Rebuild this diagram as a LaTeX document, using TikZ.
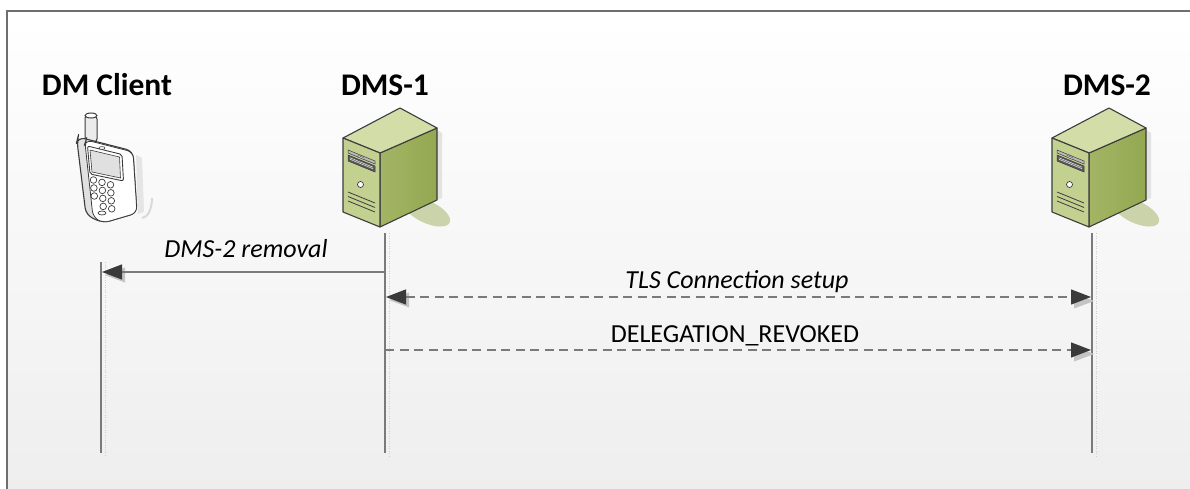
\documentclass[tikz,border=0pt]{standalone}
\usepackage{fontspec}
\setmainfont{Carlito}
\usetikzlibrary{arrows.meta}
\definecolor{framec}{HTML}{6E6E6E}
\definecolor{linec}{HTML}{7A7A7A}
\definecolor{tipc}{HTML}{3A3A3A}
\definecolor{tipsh}{HTML}{C4C4C4}
\definecolor{lifesh}{HTML}{CFCFCF}
\definecolor{srvtop}{HTML}{D2DDA8}
\definecolor{srvfront}{HTML}{C2D190}
\definecolor{srvside}{HTML}{A3B565}
\definecolor{srvsided}{HTML}{93A851}
\definecolor{srvsh}{HTML}{CBD3AA}
\definecolor{outl}{HTML}{3C3C3C}
\tikzset{
  title/.style={font=\fontsize{31.5}{38}\selectfont\bfseries, anchor=base, inner sep=0pt},
  msglabel/.style={font=\fontsize{26}{31}\selectfont, anchor=base, inner sep=0pt},
  msgitlabel/.style={msglabel, font=\fontsize{26}{31}\selectfont\itshape},
  lifeline/.style={draw=linec, line width=1.5pt},
  lifeshadow/.style={draw=lifesh, line width=0.8pt, dash pattern=on 1pt off 1.5pt},
  msg/.style={draw=linec, line width=1.3pt, -{Triangle[length=20pt,width=15pt,color=tipc]}},
  dmsg/.style={msg, dash pattern=on 9pt off 5.5pt},
  ddmsg/.style={dmsg, {Triangle[length=20pt,width=15pt,color=tipc]}-{Triangle[length=20pt,width=15pt,color=tipc]}},
  shtip/.style={fill=tipsh, draw=none},
  pics/server/.style={code={
    % shadow
    \fill[srvsh, rotate around={-25:(84,74)}] (84,74) ellipse [x radius=25, y radius=11];
    \fill[gray!22] (94,-8) -- (99,-5) -- (99,60) -- (94,62) -- cycle;
    % right face
    \shade[left color=srvside, right color=srvsided, draw=outl, line width=1.1pt, line join=round]
      (37,15) -- (94,-10) -- (94,62) -- (37,89) -- cycle;
    % top face
    \fill[srvtop, draw=outl, line width=1.1pt, line join=round]
      (0,0) -- (57,-30) -- (94,-10) -- (37,15) -- cycle;
    % front face
    \fill[srvfront, draw=outl, line width=1.1pt, line join=round]
      (0,0) -- (37,15) -- (37,89) -- (0,74) -- cycle;
    % top bay
    \fill[gray!55, draw=outl, line width=0.5pt] (5,12) -- (32,23) -- (32,26) -- (5,15) -- cycle;
    \fill[white!90!gray, draw=outl, line width=0.4pt] (15,17.5) -- (21,20) -- (21,21.5) -- (15,19) -- cycle;
    % second bay
    \fill[gray!70!black, draw=outl, line width=0.5pt] (5,17) -- (32,28) -- (32,34) -- (5,23) -- cycle;
    \draw[white!85!gray, line width=0.5pt] (7,19.8) -- (30,29.2) (7,21.3) -- (30,30.7);
    % button
    \fill[white, draw=outl, line width=0.7pt] (17.5,46.5) circle [radius=3];
    % vents
    \draw[outl, line width=0.8pt] (5,54) -- (32,65) (5,58.5) -- (32,69.5) (5,63) -- (32,74);
  }},
}
\begin{document}
\begin{tikzpicture}[x=1pt,y=-1pt]
\useasboundingbox (0,0) rectangle (1190,489);
\fill[white] (-5,-5) rectangle (1195,495);
\foreach \i in {0,...,47}{
  \pgfmathsetmacro{\shadeamt}{6.5*\i/47}
  \fill[black!\shadeamt] (7,{11+10*\i}) rectangle (1200,{11+10*\i+10.6});
}
\draw[framec, line width=2pt] (7,500) -- (7,11) -- (1200,11);

% titles
\node[title] (tclient) at (107,96) {DM Client};
\node[title] (tdms1) at (385,96) {DMS-1};
\node[title] (tdms2) at (1107,96) {DMS-2};

% phone icon
\fill[black!10] (136,155) -- (142,158) -- (144,212) -- (138,214) -- cycle;
\draw[black!15, line width=2pt] (152,198) arc [start angle=0, end angle=90, x radius=10, y radius=20];
\fill[black!8, draw=outl, line width=1pt, rounded corners=3pt]
  (85,115) -- (85,140) -- (97,142) -- (97,116) -- cycle;
\fill[white, draw=outl, line width=1pt] (91,115.5) ellipse [x radius=6, y radius=2.5];
\fill[black!12, draw=outl, line width=1.1pt, rounded corners=7pt]
  (78,137) -- (133,151) -- (137,213) -- (103,223) -- (86,215) -- (77,141) -- cycle;
\fill[white, draw=outl, line width=0.8pt, rounded corners=6pt]
  (86,140) -- (133,152) -- (137,213) -- (103,223) -- (93,217) -- (85,143) -- cycle;
\fill[white, draw=outl, line width=0.9pt, rounded corners=2pt]
  (87.5,146) -- (122,154.5) -- (123.5,181) -- (90,174) -- cycle;
\fill[black!12, draw=outl, line width=0.6pt]
  (90,150) -- (119.5,157) -- (120.5,178) -- (92,172) -- cycle;
\fill[white, draw=outl, line width=0.6pt] (102,148) ellipse [x radius=3, y radius=1.4];
\foreach \r in {0,1,2}{
  \foreach \c in {0,1,2}{
    \pgfmathsetmacro{\cx}{93.5+8.5*\c+0.4*\r}
    \pgfmathsetmacro{\cy}{180+8*\r+2.4*\c}
    \fill[white, draw=outl, line width=0.7pt] (\cx,\cy) circle [radius=3.3];
  }
}
\foreach \c in {1,2}{
  \pgfmathsetmacro{\cx}{93.5+8.5*\c+1.2}
  \pgfmathsetmacro{\cy}{180+24+2.4*\c}
  \fill[white, draw=outl, line width=0.7pt] (\cx,\cy) circle [radius=3.3];
}
\fill[white, draw=outl, line width=0.7pt] (102,213) ellipse [x radius=4, y radius=2];

% servers
\pic at (343,138) {server};
\pic at (1052,138) {server};

% lifeline coordinates
\coordinate (c-top) at (101,262);
\coordinate (c-bot) at (101,453);
\coordinate (s1-top) at (385,233);
\coordinate (s1-bot) at (385,453);
\coordinate (s2-top) at (1092,233);
\coordinate (s2-bot) at (1092,453);

\draw[lifeshadow] ([xshift=4pt]c-top) -- ([xshift=4pt,yshift=-3pt]c-bot);
\draw[lifeshadow] ([xshift=4pt]s1-top) -- ([xshift=4pt,yshift=-3pt]s1-bot);
\draw[lifeshadow] ([xshift=4pt]s2-top) -- ([xshift=4pt,yshift=-3pt]s2-bot);
\draw[lifeline] (c-top) -- (c-bot);
\draw[lifeline] (s1-top) -- (s1-bot);
\draw[lifeline] (s2-top) -- (s2-bot);

% message end points
\coordinate (m1a) at (385,272);
\coordinate (m1b) at (102,272);
\coordinate (m2a) at (386,297);
\coordinate (m2b) at (1091,297);
\coordinate (m3a) at (385,350);
\coordinate (m3b) at (1091,350);

% arrow tip shadows
\fill[shtip] (105,275) -- (125,267.5) -- (125,282.5) -- cycle;
\fill[shtip] (389,300) -- (409,292.5) -- (409,307.5) -- cycle;
\fill[shtip] (1094,301) -- (1074,293.5) -- (1074,308.5) -- cycle;
\fill[shtip] (1094,354) -- (1074,346.5) -- (1074,361.5) -- cycle;

% messages
\draw[msg] (m1a) -- (m1b);
\draw[ddmsg] (m2a) -- (m2b);
\draw[dmsg] (m3a) -- (m3b);

% labels
\node[msgitlabel] (l1) at (246,257) {DMS-2 removal};
\node[msgitlabel] (l2) at (737,288) {TLS Connection setup};
\node[msglabel] (l3) at (735,342) {DELEGATION\_REVOKED};
\end{tikzpicture}
\end{document}
